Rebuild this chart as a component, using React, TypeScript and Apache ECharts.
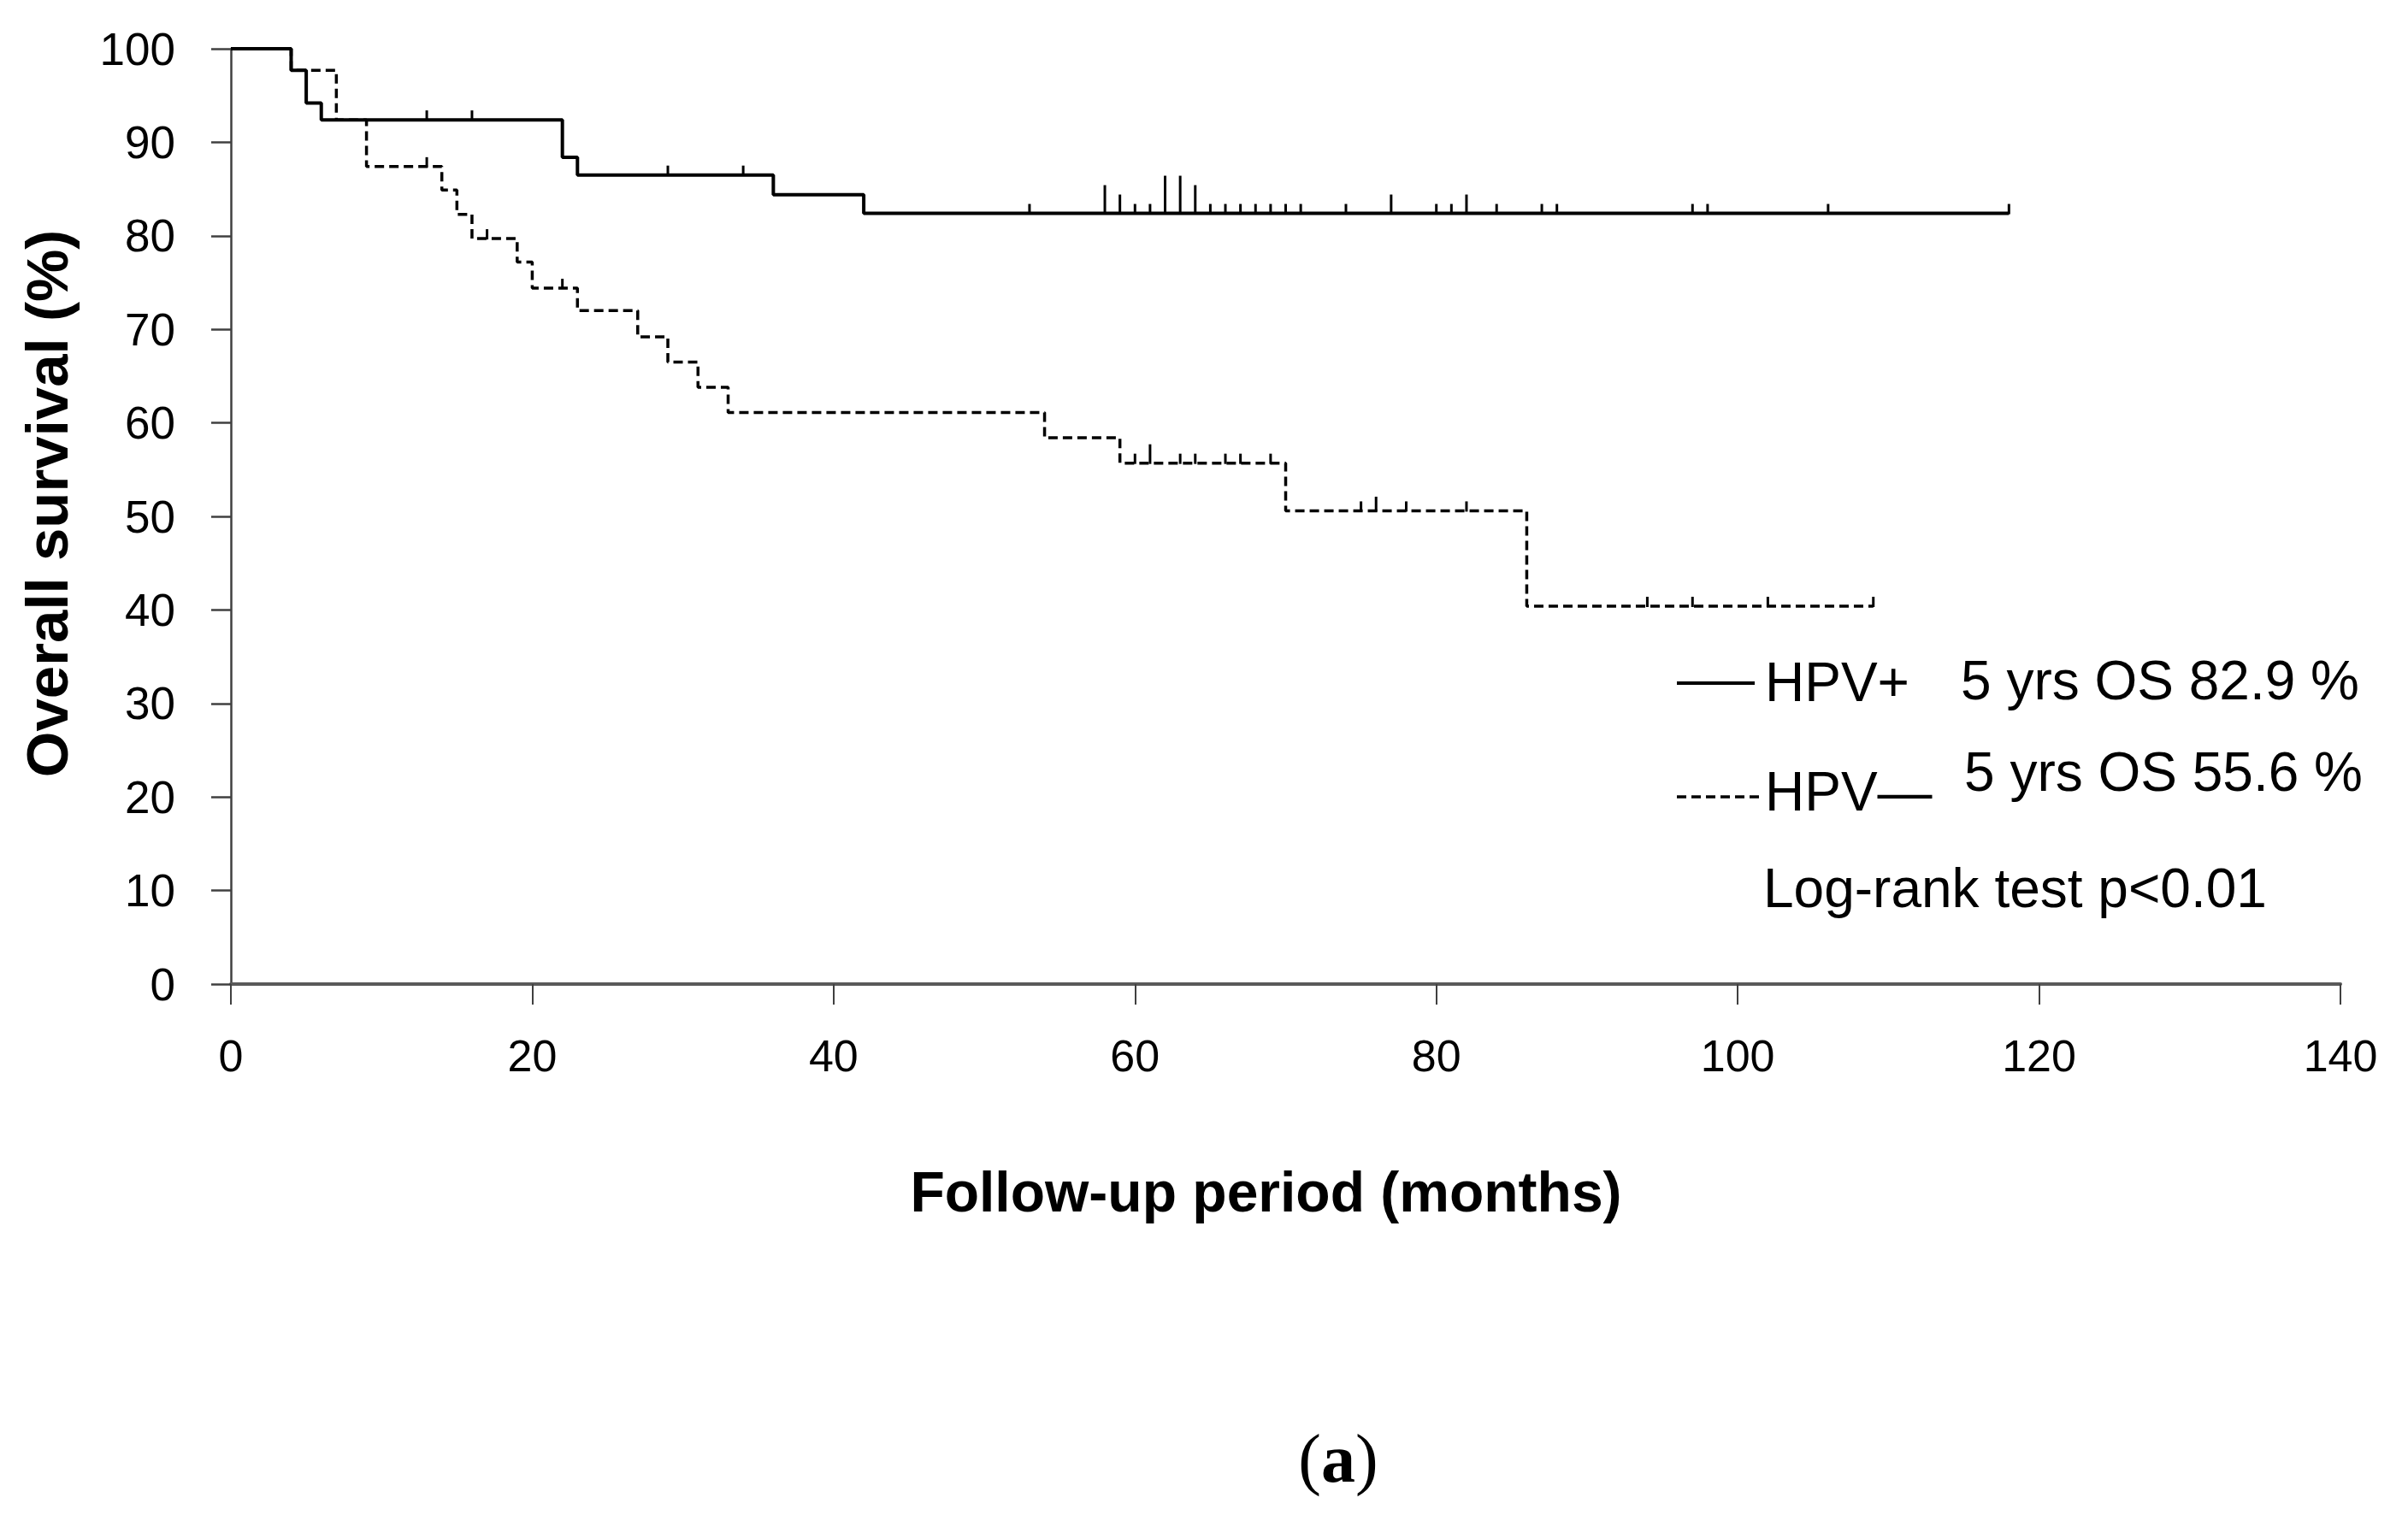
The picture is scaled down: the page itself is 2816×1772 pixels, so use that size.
import React, { useEffect, useRef } from "react";
import * as echarts from "echarts";

// ---- Data ----
const xTicks = [0, 20, 40, 60, 80, 100, 120, 140];
const yTicks = [0, 10, 20, 30, 40, 50, 60, 70, 80, 90, 100];

// HPV+ (solid): event times (months) and survival (%) after each event
const hpvPosTimes = [0, 4, 5, 6, 22, 23, 36, 42];
const hpvPosSurv = [100, 97.7, 94.2, 92.4, 88.4, 86.5, 84.4, 82.4];
const hpvPosEnd = 118;
const hpvPosCensorTimes = [13, 16, 29, 34, 53, 58, 59, 60, 61, 62, 63, 64, 65, 66, 67, 68, 69, 70, 71, 74, 77, 80, 81, 82, 84, 87, 88, 97, 98, 106, 118];
const hpvPosCensorCounts = [1, 1, 1, 1, 1, 3, 2, 1, 1, 4, 4, 3, 1, 1, 1, 1, 1, 1, 1, 1, 2, 1, 1, 2, 1, 1, 1, 1, 1, 1, 1];

// HPV− (dashed)
const hpvNegTimes = [0, 4, 7, 9, 14, 15, 16, 19, 20, 23, 27, 29, 31, 33, 54, 59, 70, 86];
const hpvNegSurv = [100, 97.7, 92.4, 87.4, 84.9, 82.3, 79.7, 77.2, 74.4, 72.0, 69.2, 66.5, 63.8, 61.1, 58.4, 55.7, 50.6, 40.4];
const hpvNegEnd = 109;
const hpvNegCensorTimes = [13, 17, 22, 60, 61, 63, 64, 66, 67, 69, 75, 76, 78, 82, 94, 97, 102, 109];
const hpvNegCensorCounts = [1, 1, 1, 1, 2, 1, 1, 1, 1, 1, 1, 1.5, 1, 1, 1, 1, 1, 1];

const legendLabels = ["HPV+", "HPV\u2014"];
const legendStats = ["5 yrs OS 82.9 %", "5 yrs OS 55.6 %"];
const testLabel = "Log-rank test p<0.01";

function stepPoints(times: number[], surv: number[], end: number) {
  const pts: number[][] = [];
  for (let i = 0; i < times.length; i++) {
    if (i > 0) pts.push([times[i], surv[i - 1]]);
    pts.push([times[i], surv[i]]);
  }
  pts.push([end, surv[surv.length - 1]]);
  return pts;
}

function survAt(times: number[], surv: number[], t: number) {
  let v = surv[0];
  for (let i = 0; i < times.length; i++) if (times[i] <= t) v = surv[i];
  return v;
}

function censorData(ct: number[], cc: number[], times: number[], surv: number[]) {
  return ct.map((t, i) => [t, survAt(times, surv, t), cc[i]]);
}

const TICK_UNIT = 11;

function censorRender(params: any, api: any) {
  const p = api.coord([api.value(0), api.value(1)]);
  const h = api.value(2) * TICK_UNIT;
  return {
    type: "line",
    shape: { x1: p[0], y1: p[1] + 1, x2: p[0], y2: p[1] - h },
    style: { stroke: "#000", lineWidth: 3 },
  };
}

const FONT = "'Liberation Sans', Arial, sans-serif";
const SERIF = "'Liberation Serif', 'DejaVu Serif', serif";

export default function App() {
  const ref = useRef<HTMLDivElement>(null);
  useEffect(() => {
    if (!ref.current) return;
    const chart = echarts.init(ref.current, undefined, { renderer: "svg" });
    const option: any = {
      animation: false,
      backgroundColor: "#fff",
      grid: { left: 270, right: 79, top: 57, bottom: 621 },
      xAxis: {
        type: "value",
        min: xTicks[0],
        max: xTicks[xTicks.length - 1],
        interval: 20,
        name: "Follow-up period (months)",
        nameLocation: "middle",
        nameGap: 210,
        nameTextStyle: {
          fontFamily: FONT,
          fontWeight: "bold",
          fontSize: 66,
          color: "#000",
          padding: [0, 46, 0, 0],
        },
        axisLine: { show: true, lineStyle: { color: "#595959", width: 4 } },
        axisTick: { show: true, length: 24, lineStyle: { color: "#404040", width: 2 } },
        axisLabel: { fontFamily: FONT, fontSize: 52, color: "#000", margin: 58 },
        splitLine: { show: false },
      },
      yAxis: {
        type: "value",
        min: yTicks[0],
        max: yTicks[yTicks.length - 1],
        interval: 10,
        name: "Overall survival (%)",
        nameLocation: "middle",
        nameRotate: 90,
        nameGap: 180,
        nameTextStyle: {
          fontFamily: FONT,
          fontWeight: "bold",
          fontSize: 69,
          color: "#000",
          padding: [0, 0, 0, 30],
        },
        axisLine: { show: true, lineStyle: { color: "#404040", width: 2.5 } },
        axisTick: { show: true, length: 23, lineStyle: { color: "#404040", width: 2.5 } },
        axisLabel: { fontFamily: FONT, fontSize: 53, color: "#000", margin: 65 },
        splitLine: { show: false },
      },
      series: [
        {
          type: "line",
          name: "HPV+",
          data: stepPoints(hpvPosTimes, hpvPosSurv, hpvPosEnd),
          showSymbol: false,
          lineStyle: { color: "#000", width: 4 },
          z: 3,
        },
        {
          type: "line",
          name: "HPV-",
          data: stepPoints(hpvNegTimes, hpvNegSurv, hpvNegEnd),
          showSymbol: false,
          lineStyle: { color: "#000", width: 3.5, type: [11, 6] },
          z: 2,
        },
        {
          type: "custom",
          renderItem: censorRender,
          data: censorData(hpvPosCensorTimes, hpvPosCensorCounts, hpvPosTimes, hpvPosSurv),
          z: 4,
        },
        {
          type: "custom",
          renderItem: censorRender,
          data: censorData(hpvNegCensorTimes, hpvNegCensorCounts, hpvNegTimes, hpvNegSurv),
          z: 4,
        },
      ],
      graphic: [
        { type: "line", shape: { x1: 1961, y1: 799, x2: 2052, y2: 799 }, style: { stroke: "#000", lineWidth: 4 } },
        { type: "text", x: 2064, y: 798, style: { text: legendLabels[0], font: `64px ${FONT}`, fill: "#000", textAlign: "left", textVerticalAlign: "middle" } },
        { type: "text", x: 2293, y: 796, style: { text: legendStats[0], font: `64px ${FONT}`, fill: "#000", textAlign: "left", textVerticalAlign: "middle" } },
        { type: "line", shape: { x1: 1961, y1: 932, x2: 2058, y2: 932 }, style: { stroke: "#000", lineWidth: 3.5, lineDash: [11, 6] } },
        { type: "text", x: 2064, y: 926, style: { text: legendLabels[1], font: `64px ${FONT}`, fill: "#000", textAlign: "left", textVerticalAlign: "middle" } },
        { type: "text", x: 2297, y: 903, style: { text: legendStats[1], font: `64px ${FONT}`, fill: "#000", textAlign: "left", textVerticalAlign: "middle" } },
        { type: "text", x: 2062, y: 1039, style: { text: testLabel, font: `64px ${FONT}`, fill: "#000", textAlign: "left", textVerticalAlign: "middle" } },
        {
          type: "text",
          x: 1565,
          y: 1706,
          style: {
            text: "{n|(}{b|a}{n|)}",
            textAlign: "center",
            textVerticalAlign: "middle",
            rich: {
              n: { fontFamily: SERIF, fontSize: 80, color: "#000" },
              b: { fontFamily: SERIF, fontSize: 80, fontWeight: "bold", color: "#000" },
            },
          },
        },
      ],
    };
    chart.setOption(option);
    return () => chart.dispose();
  }, []);
  return (
    <div
      ref={ref}
      style={{ position: "fixed", left: 0, top: 0, width: 2816, height: 1772, background: "#fff" }}
    />
  );
}
